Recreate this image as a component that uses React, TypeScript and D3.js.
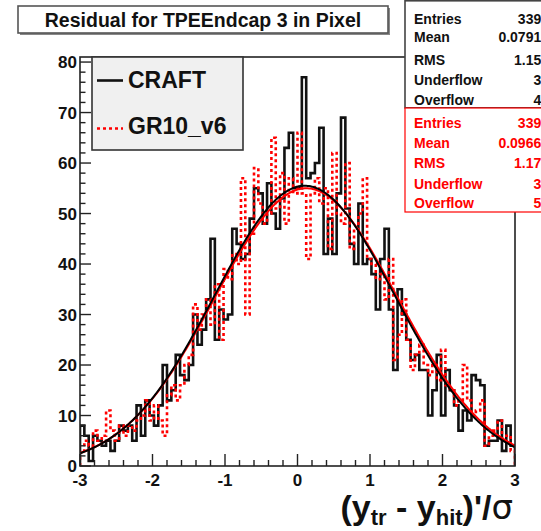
import React from 'react';
import * as d3 from 'd3';

// ---- data ----
const craftCounts = [
  8, 6, 1, 6, 5, 4, 5, 3, 5, 8,
  7, 8, 5, 12, 6, 13, 10, 8, 12, 20,
  13, 15, 22, 18, 17, 20, 30, 24, 27, 33,
  45, 25, 31, 29, 30, 47, 44, 41, 42, 49,
  55, 54, 48, 56, 50, 47, 53, 63, 66, 55,
  55, 77, 57, 58, 60, 67, 42, 49, 42, 54,
  69, 51, 44, 40, 52, 40, 41, 38, 31, 41,
  47, 31, 19, 35, 30, 25, 21, 22, 19, 19,
  10, 15, 22, 10, 19, 15, 12, 7, 11, 9,
  18, 17, 16, 4, 5, 5, 9, 3, 8, 4,
];
const gr10Counts = [
  3, 5, 4, 7, 5, 6, 11, 7, 5, 8,
  6, 8, 7, 9, 10, 13, 9, 12, 9, 6,
  14, 16, 13, 16, 20, 22, 32, 27, 30, 33,
  28, 36, 25, 39, 37, 42, 40, 57, 30, 46,
  59, 52, 48, 50, 65, 51, 58, 48, 57, 54,
  66, 54, 41, 54, 57, 52, 55, 43, 62, 50,
  48, 60, 43, 47, 50, 57, 41, 40, 37, 38,
  33, 41, 21, 26, 33, 25, 19, 22, 24, 20,
  18, 20, 17, 23, 16, 15, 12, 13, 20, 13,
  10, 11, 13, 4, 6, 7, 9, 5, 6, 3,
];
const xRange = [-3, 3];
const yRange = [0, 81];
const xTickValues = [-3, -2, -1, 0, 1, 2, 3];
const yTickValues = [0, 10, 20, 30, 40, 50, 60, 70, 80];
const statLabels = ['Entries', 'Mean', 'RMS', 'Underflow', 'Overflow'];
const craftStatValues = ['3395', '0.07913', '1.159', '35', '45'];
const gr10StatValues = ['3395', '0.09664', '1.175', '34', '52'];
const craftFit = [55.5, 0.1, 1.247]; // amplitude, mean, sigma
const gr10Fit = [55.0, 0.12, 1.26];
const legendNames = ['CRAFT', 'GR10_v6'];
const titleText = 'Residual for TPEEndcap 3 in Pixel';

const FONT = 'Liberation Sans, Arial, Helvetica, sans-serif';

export default function App() {
  const W = 541, H = 531;
  const fx0 = 80, fx1 = 515, fy0 = 57, fy1 = 466;
  const x = d3.scaleLinear().domain(xRange).range([fx0, fx1]);
  const y = d3.scaleLinear().domain(yRange).range([fy1, fy0]);

  const histPath = (counts: number[]) => {
    const n = counts.length;
    const w = (xRange[1] - xRange[0]) / n;
    const pts: [number, number][] = [[x(xRange[0]), y(0)]];
    counts.forEach((v, i) => {
      const a = xRange[0] + i * w;
      pts.push([x(a), y(v)]);
      pts.push([x(a + w), y(v)]);
    });
    pts.push([x(xRange[1]), y(0)]);
    return d3.line()(pts) as string;
  };

  const fitPath = (p: number[]) => {
    const xs = d3.range(0, 301).map((i) => xRange[0] + (i * (xRange[1] - xRange[0])) / 300);
    const pts: [number, number][] = xs.map((v) => [
      x(v),
      y(p[0] * Math.exp(-((v - p[1]) ** 2) / (2 * p[2] * p[2]))),
    ]);
    return d3.line()(pts) as string;
  };

  const xMinor = d3.range(0, 31).map((i) => xRange[0] + i * 0.2);
  const yMinor = d3.range(0, 41).map((i) => i * 2);

  const blackRows = [19, 37, 60, 80, 99.5];
  const redRows = [123, 143, 163, 184, 203];

  return (
    <svg
      width={W}
      height={H}
      style={{ position: 'absolute', left: 0, top: 0, background: '#fff' }}
      fontFamily={FONT}
    >
      <defs>
        <clipPath id="frameClip">
          <rect x={fx0} y={fy0} width={fx1 - fx0} height={fy1 - fy0} />
        </clipPath>
      </defs>
      <rect x={0} y={0} width={W} height={H} fill="#fff" />

      {/* histograms and fits */}
      <g clipPath="url(#frameClip)">
        <path d={histPath(craftCounts)} fill="none" stroke="#111" strokeWidth={2.6} />
        <path
          d={histPath(gr10Counts)}
          fill="none"
          stroke="#ff0000"
          strokeWidth={2.6}
          strokeDasharray="3,3"
        />
        <path d={fitPath(gr10Fit)} fill="none" stroke="#ff0000" strokeWidth={2} />
        <path d={fitPath(craftFit)} fill="none" stroke="#000" strokeWidth={2} />
      </g>

      {/* frame */}
      <rect x={fx0} y={fy0} width={fx1 - fx0} height={fy1 - fy0} fill="none" stroke="#222" strokeWidth={1.6} />

      {/* y ticks */}
      {yMinor.map((v) => (
        <line
          key={'ym' + v}
          x1={fx0}
          x2={fx0 + (v % 10 === 0 ? 11 : 5.5)}
          y1={y(v)}
          y2={y(v)}
          stroke="#222"
          strokeWidth={1.4}
        />
      ))}
      {yTickValues.map((v) => (
        <text
          key={'yl' + v}
          x={fx0 - 3}
          y={y(v) + 6}
          textAnchor="end"
          fontSize={17}
          fontWeight="bold"
          fill="#111"
        >
          {v}
        </text>
      ))}

      {/* x ticks */}
      {xMinor.map((v, i) => (
        <line
          key={'xm' + i}
          x1={x(v)}
          x2={x(v)}
          y1={fy1}
          y2={fy1 - (i % 5 === 0 ? 12 : 6)}
          stroke="#222"
          strokeWidth={1.4}
        />
      ))}
      {xTickValues.map((v) => (
        <text
          key={'xl' + v}
          x={x(v)}
          y={486}
          textAnchor="middle"
          fontSize={17}
          fontWeight="bold"
          fill="#111"
        >
          {v}
        </text>
      ))}

      {/* x axis title */}
      <text x={513} y={519} textAnchor="end" fontWeight="bold" fill="#111" fontSize={34}>
        (y
        <tspan fontSize={22} dy={6}>tr</tspan>
        <tspan fontSize={34} dy={-6}> - y</tspan>
        <tspan fontSize={22} dy={6}>hit</tspan>
        <tspan fontSize={34} dy={-6}>)'/</tspan>
        <tspan fontSize={34} fontWeight="normal" fontFamily="DejaVu Sans, sans-serif">σ</tspan>
      </text>

      {/* title box */}
      <rect x={20} y={8} width={370} height={27} fill="#888" />
      <rect x={18} y={6} width={370} height={27} fill="#fff" stroke="#555" strokeWidth={1.6} />
      <text x={203} y={26.5} textAnchor="middle" fontSize={19.5} fontWeight="bold" fill="#111">
        {titleText}
      </text>

      {/* legend */}
      <rect x={92} y={57} width={151} height={93} fill="#f0f0f0" stroke="#333" strokeWidth={1.6} />
      <line x1={97} x2={123} y1={80.5} y2={80.5} stroke="#111" strokeWidth={2.6} />
      <text x={128} y={88} fontSize={23} fontWeight="bold" fill="#111">
        {legendNames[0]}
      </text>
      <line x1={97} x2={123} y1={128.5} y2={128.5} stroke="#ff0000" strokeWidth={2.6} strokeDasharray="3,3" />
      <text x={128} y={134} fontSize={23} fontWeight="bold" fill="#111">
        {legendNames[1]}
      </text>

      {/* stats boxes */}
      <rect x={405} y={0.8} width={150} height={107} fill="#fff" stroke="#444" strokeWidth={1.6} />
      {statLabels.map((s, i) => (
        <g key={'bs' + i}>
          <text x={414} y={blackRows[i] + 5} fontSize={14} fontWeight="bold" fill="#111">
            {s}
          </text>
          <text x={549} y={blackRows[i] + 5} textAnchor="end" fontSize={14} fontWeight="bold" fill="#111">
            {craftStatValues[i]}
          </text>
        </g>
      ))}
      <rect x={405} y={108} width={150} height={104} fill="#fff" stroke="#ff0000" strokeWidth={1.2} />
      {statLabels.map((s, i) => (
        <g key={'rs' + i}>
          <text x={414} y={redRows[i] + 5} fontSize={14} fontWeight="bold" fill="#ff0000">
            {s}
          </text>
          <text x={549} y={redRows[i] + 5} textAnchor="end" fontSize={14} fontWeight="bold" fill="#ff0000">
            {gr10StatValues[i]}
          </text>
        </g>
      ))}
    </svg>
  );
}
